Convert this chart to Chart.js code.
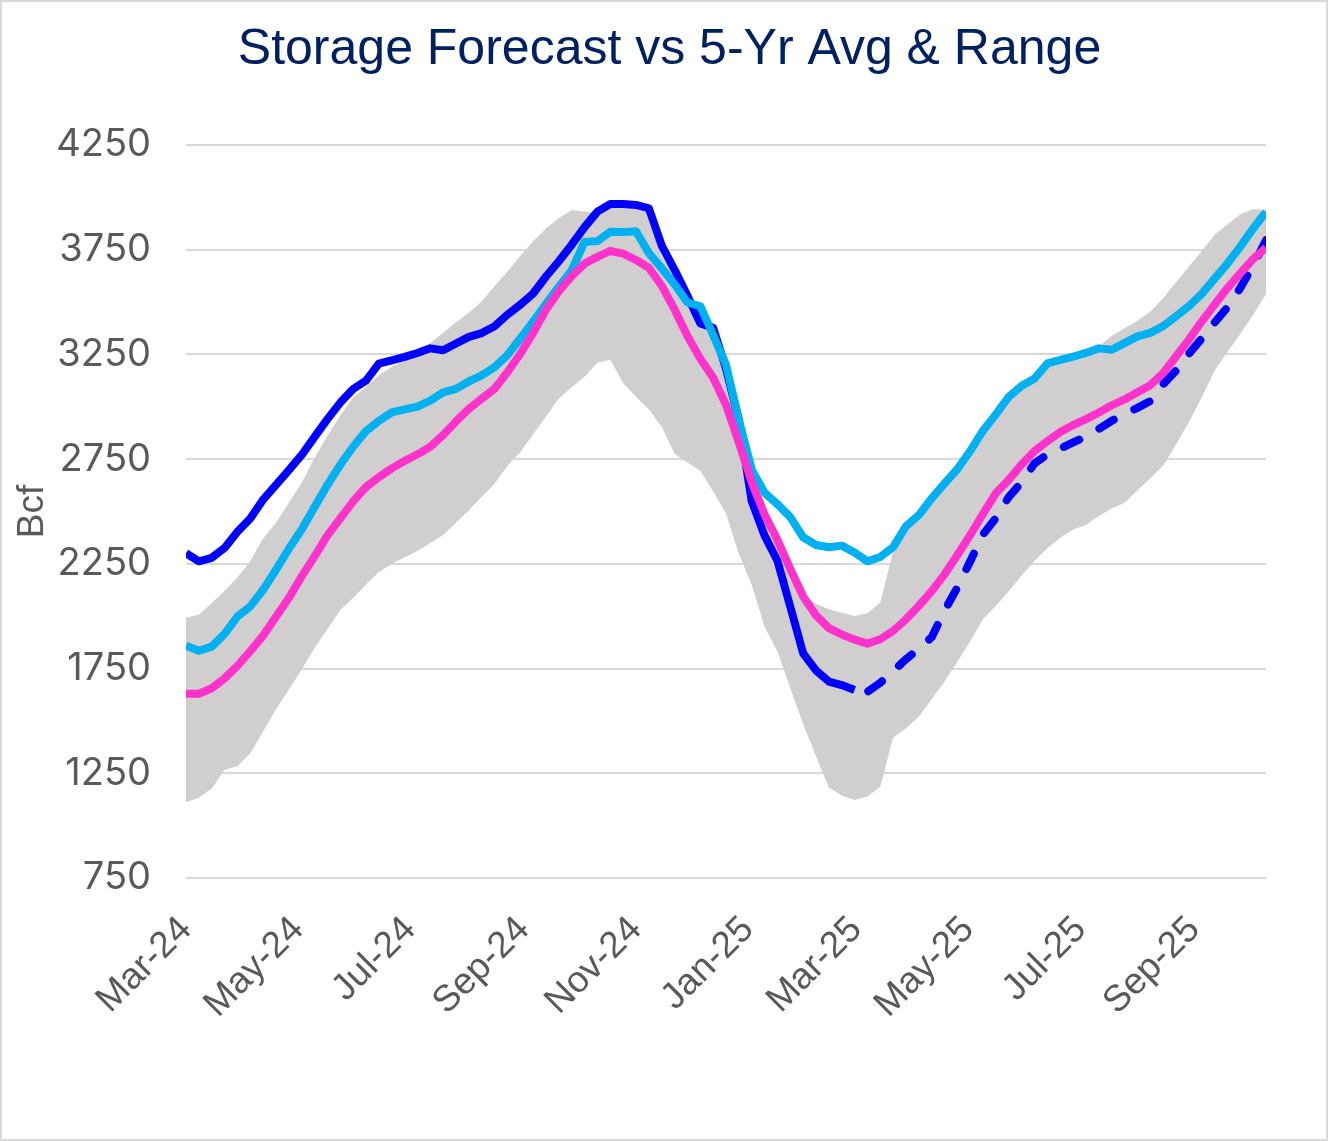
<!DOCTYPE html>
<html>
<head>
<meta charset="utf-8">
<script src="https://cdn.jsdelivr.net/npm/chart.js@4.4.1/dist/chart.umd.min.js"></script>
<style>
  html, body { margin: 0; padding: 0; background: #ffffff; }
  #wrap { position: absolute; left: 0; top: 0; width: 1328px; height: 1141px; box-sizing: border-box; border: 2px solid #d9d9d9; background: #ffffff; }
  canvas { display: block; }
</style>
</head>
<body>
<div id="wrap"><canvas id="chart" width="1324" height="1137"></canvas></div>
<script>
// Weekly storage dates (Fridays)
const weekDates = [
  "2024-03-01","2024-03-08","2024-03-15","2024-03-22","2024-03-29","2024-04-05","2024-04-12","2024-04-19","2024-04-26",
  "2024-05-03","2024-05-10","2024-05-17","2024-05-24","2024-05-31","2024-06-07","2024-06-14","2024-06-21","2024-06-28",
  "2024-07-05","2024-07-12","2024-07-19","2024-07-26","2024-08-02","2024-08-09","2024-08-16","2024-08-23","2024-08-30",
  "2024-09-06","2024-09-13","2024-09-20","2024-09-27","2024-10-04","2024-10-11","2024-10-18","2024-10-25","2024-11-01",
  "2024-11-08","2024-11-15","2024-11-22","2024-11-29","2024-12-06","2024-12-13","2024-12-20","2024-12-27","2025-01-03",
  "2025-01-10","2025-01-17","2025-01-24","2025-01-31","2025-02-07","2025-02-14","2025-02-21","2025-02-28","2025-03-07",
  "2025-03-14","2025-03-21","2025-03-28","2025-04-04","2025-04-11","2025-04-18","2025-04-25","2025-05-02","2025-05-09",
  "2025-05-16","2025-05-23","2025-05-30","2025-06-06","2025-06-13","2025-06-20","2025-06-27","2025-07-04","2025-07-11",
  "2025-07-18","2025-07-25","2025-08-01","2025-08-08","2025-08-15","2025-08-22","2025-08-29","2025-09-05","2025-09-12",
  "2025-09-19","2025-09-26","2025-10-03","2025-10-10"
];

// X-axis tick labels (every two months)
const tickDates  = ["2024-03-01","2024-05-01","2024-07-01","2024-09-01","2024-11-01","2025-01-01","2025-03-01","2025-05-01","2025-07-01","2025-09-01"];
const tickLabels = ["Mar-24","May-24","Jul-24","Sep-24","Nov-24","Jan-25","Mar-25","May-25","Jul-25","Sep-25"];

// Actual storage (Bcf), 2024-03-01 .. 2025-02-28
const storageActual = [2301,2262,2279,2326,2403,2467,2557,2627,2698,2770,2856,2941,3020,3085,3125,3206,3222,3238,3257,3279,
  3270,3302,3334,3352,3385,3440,3487,3541,3622,3695,3774,3858,3932,3968,3968,3964,3948,3770,3654,3530,
  3398,3377,3182,2937,2550,2385,2265,2045,1823,1741,1688,1671,1648];

// Forecast storage (Bcf), 2025-02-28 .. 2025-10-10
const storageForecast = [1648,1639,1682,1737,1795,1844,1900,2027,2138,2263,2391,2470,2570,2640,2730,2772,2800,2830,2858,2894,
  2933,2967,2995,3027,3108,3172,3253,3326,3402,3475,3567,3674,3795];

// Year-ago storage (Bcf)
const storageYearAgo = [1859,1835,1855,1916,1998,2047,2126,2222,2322,2414,2521,2627,2723,2809,2884,2933,2973,2988,3001,3029,
  3069,3086,3121,3150,3189,3247,3326,3407,3492,3573,3652,3787,3791,3836,3834,3838,3734,3662,3585,3498,
  3480,3343,3200,2937,2700,2590,2535,2473,2377,2340,2329,2337,2304,2262,2283,2330,2430,2483,2563,2634,
  2703,2790,2887,2965,3048,3100,3135,3207,3224,3240,3257,3279,3272,3304,3336,3353,3385,3432,3481,3539,
  3612,3684,3765,3851,3930];

// 5-year average (Bcf)
const fiveYrAvg = [1630,1630,1656,1703,1763,1833,1908,1998,2087,2190,2286,2386,2467,2548,2617,2664,2706,2741,2773,2809,
  2865,2930,2990,3039,3086,3165,3253,3353,3464,3552,3624,3684,3716,3744,3731,3701,3664,3578,3465,3338,
  3230,3139,3010,2830,2640,2485,2365,2226,2094,2004,1943,1913,1888,1869,1890,1930,1985,2050,2120,2200,
  2292,2388,2490,2588,2652,2725,2789,2836,2880,2913,2941,2973,3007,3035,3069,3103,3161,3240,3321,3407,
  3488,3567,3637,3706,3759];

// 5-year range max / min (Bcf)
const rangeMax = [1993,2008,2062,2121,2185,2264,2371,2446,2542,2638,2755,2862,2958,3044,3095,3150,3190,3225,3257,3304,
  3353,3405,3449,3503,3577,3646,3721,3791,3851,3902,3940,3932,3928,3955,3955,3950,3930,3720,3620,3510,
  3430,3340,3160,2900,2640,2490,2370,2230,2105,2060,2033,2016,2001,2014,2065,2310,2415,2470,2550,2620,
  2690,2775,2870,2950,3030,3085,3120,3190,3210,3230,3255,3289,3338,3375,3411,3454,3518,3595,3669,3744,
  3821,3872,3919,3945,3940];
const rangeMin = [1112,1133,1176,1267,1284,1346,1449,1556,1650,1746,1848,1938,2030,2087,2151,2211,2250,2282,2311,2350,
  2388,2446,2506,2570,2632,2719,2783,2869,2954,3039,3093,3144,3210,3225,3112,3048,2988,2905,2776,2734,
  2695,2595,2490,2297,2150,1950,1831,1656,1485,1331,1182,1144,1122,1139,1186,1421,1464,1521,1605,1688,
  1784,1880,1987,2050,2120,2195,2265,2325,2375,2414,2435,2478,2514,2542,2600,2659,2719,2820,2926,3044,
  3172,3261,3347,3439,3539];

const forecastStartIndex = 52;

const DAY = 86400000;
const t0 = Date.parse(weekDates[0]);
const dayOf = d => Math.round((Date.parse(d) - t0) / DAY);
const toPoints = (vals, startIdx) => vals.map((v, i) => ({ x: dayOf(weekDates[startIdx + i]), y: v }));

const axisGray = '#595959';

new Chart(document.getElementById('chart'), {
  type: 'line',
  data: {
    datasets: [
      { label: '5-Yr Range Max', data: toPoints(rangeMax, 0), borderColor: 'rgba(0,0,0,0)', borderWidth: 0,
        backgroundColor: '#D0CECE', fill: '+1', pointRadius: 0, order: 10 },
      { label: '5-Yr Range Min', data: toPoints(rangeMin, 0), borderColor: 'rgba(0,0,0,0)', borderWidth: 0,
        backgroundColor: 'rgba(0,0,0,0)', fill: false, pointRadius: 0, order: 11 },
      { label: '5-Yr Avg', data: toPoints(fiveYrAvg, 0), borderColor: '#FF33CC', borderWidth: 8,
        fill: false, pointRadius: 0, order: 1, borderJoinStyle: 'round' },
      { label: 'Last Year', data: toPoints(storageYearAgo, 0), borderColor: '#00B0F0', borderWidth: 8,
        fill: false, pointRadius: 0, order: 2, borderJoinStyle: 'round' },
      { label: 'Storage', data: toPoints(storageActual, 0), borderColor: '#0000FF', borderWidth: 8,
        fill: false, pointRadius: 0, order: 3, borderJoinStyle: 'round' },
      { label: 'Forecast', data: toPoints(storageForecast, forecastStartIndex), borderColor: '#0000FF', borderWidth: 8,
        borderDash: [17, 23], borderDashOffset: 26, borderCapStyle: 'round', borderJoinStyle: 'round',
        fill: false, pointRadius: 0, order: 3 }
    ]
  },
  options: {
    responsive: false,
    animation: false,
    events: [],
    layout: { padding: { left: 11, right: 0, top: 0, bottom: 0 } },
    elements: { line: { tension: 0 } },
    plugins: {
      legend: { display: false },
      tooltip: { enabled: false },
      title: {
        display: true,
        text: 'Storage Forecast vs 5-Yr Avg & Range',
        color: '#002060',
        font: { family: 'Liberation Sans', size: 50, weight: 'normal', lineHeight: 1.2 },
        padding: { top: 18, bottom: 65 }
      }
    },
    scales: {
      x: {
        type: 'linear',
        position: 'bottom',
        min: 0,
        max: dayOf(weekDates[weekDates.length - 1]),
        grid: { display: false, drawTicks: false },
        border: { display: false },
        ticks: {
          autoSkip: false,
          minRotation: 45,
          maxRotation: 45,
          padding: 30,
          color: axisGray,
          font: { family: 'Liberation Sans', size: 37 },
          callback: (value, index) => tickLabels[index]
        },
        afterBuildTicks: (scale) => { scale.ticks = tickDates.map(d => ({ value: dayOf(d) })); },
        afterFit: (scale) => { scale.height = 261; }
      },
      y: {
        type: 'linear',
        position: 'left',
        min: 750,
        max: 4250,
        grid: { color: '#d9d9d9', lineWidth: 2, drawTicks: false },
        border: { display: false },
        ticks: {
          stepSize: 500,
          padding: 35,
          color: axisGray,
          font: { family: 'Inter', size: 38 },
          callback: (value) => String(value)
        },
        title: {
          display: true,
          text: 'Bcf',
          color: axisGray,
          font: { family: 'Liberation Sans', size: 37, lineHeight: 1 },
          padding: { top: 1, bottom: 0 }
        },
        afterFit: (scale) => { scale.width = 173; }
      },
      y2: {
        type: 'linear',
        position: 'right',
        display: true,
        grid: { display: false, drawTicks: false },
        border: { display: false },
        ticks: { display: false },
        afterFit: (scale) => { scale.width = 60; }
      }
    }
  }
});
</script>
</body>
</html>
